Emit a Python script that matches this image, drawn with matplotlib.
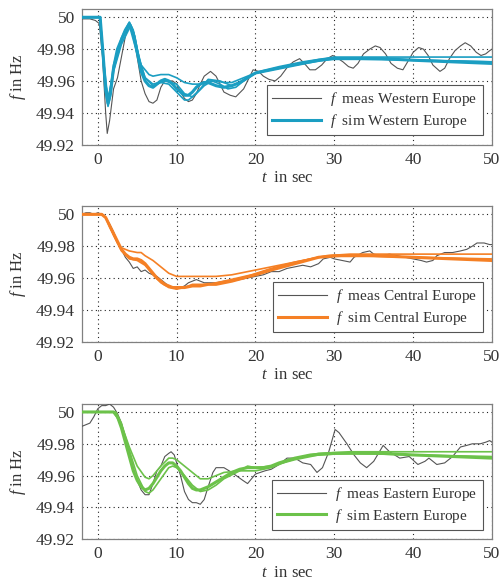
import numpy as np
import matplotlib
matplotlib.use("Agg")
import matplotlib.pyplot as plt

plt.rcParams['font.family'] = ['Liberation Serif', 'DejaVu Serif']
plt.rcParams['mathtext.fontset'] = 'custom'
plt.rcParams['mathtext.it'] = 'Liberation Serif:italic'
plt.rcParams['mathtext.rm'] = 'Liberation Serif'

west_meas = [(-2, 49.999), (-1, 49.999), (-0.3, 49.998), (0.2, 49.996), (0.6, 49.975), (1.0, 49.94),
             (1.2, 49.927), (1.5, 49.935), (2.0, 49.955), (2.5, 49.962), (3.0, 49.975), (3.5, 49.988),
             (4.0, 49.996), (4.5, 49.990), (5.0, 49.975), (5.5, 49.960), (6.0, 49.952), (6.5, 49.947),
             (7.0, 49.946), (7.5, 49.948), (8.0, 49.956), (8.5, 49.960), (9.0, 49.960), (9.5, 49.960),
             (10.0, 49.958), (10.5, 49.953), (11.0, 49.949), (11.5, 49.947), (12.0, 49.948), (12.5, 49.952),
             (13.0, 49.958), (13.5, 49.963), (14.3, 49.966), (15.0, 49.963), (15.5, 49.958), (16.0, 49.953),
             (16.8, 49.951), (17.5, 49.950), (18.5, 49.955), (19.7, 49.967), (20.4, 49.966), (21.0, 49.963),
             (21.7, 49.961), (22.5, 49.960), (23.2, 49.963), (24.1, 49.969), (24.8, 49.972), (25.6, 49.974),
             (26.2, 49.971), (26.9, 49.967), (27.6, 49.967), (28.4, 49.970), (29.1, 49.974), (29.8, 49.976),
             (30.5, 49.974), (31.1, 49.972), (31.8, 49.969), (32.4, 49.968), (33.0, 49.971), (33.7, 49.977),
             (34.5, 49.980), (35.2, 49.982), (35.8, 49.981), (36.5, 49.977), (37.2, 49.971), (38.0, 49.968),
             (38.7, 49.967), (39.3, 49.972), (40.0, 49.978), (40.7, 49.981), (41.3, 49.980), (41.9, 49.976),
             (42.5, 49.970), (43.4, 49.966), (44.0, 49.968), (44.6, 49.974), (45.3, 49.979), (46.0, 49.982),
             (46.6, 49.984), (47.3, 49.982), (48.0, 49.978), (48.6, 49.976), (49.2, 49.977), (49.7, 49.979),
             (50, 49.980)]
west_sim = [(-2, 50), (0.3, 50), (0.7, 49.975), (1.0, 49.955), (1.3, 49.946), (1.6, 49.952), (2.0, 49.968),
            (2.5, 49.980), (3.0, 49.986), (3.5, 49.992), (4.0, 49.996), (4.5, 49.990), (5.0, 49.978),
            (5.5, 49.966), (6.0, 49.960), (6.5, 49.957), (7.0, 49.956), (7.5, 49.958), (8.0, 49.960),
            (8.5, 49.961), (9.0, 49.960), (9.5, 49.958), (10, 49.955), (10.5, 49.953), (11, 49.951),
            (11.5, 49.951), (12, 49.953), (12.5, 49.956), (13, 49.958), (13.5, 49.959), (14, 49.959),
            (15, 49.957), (16, 49.956), (17, 49.957), (18, 49.959), (19, 49.962), (20, 49.965),
            (22, 49.967), (25, 49.970), (28, 49.973), (30, 49.974), (33, 49.974), (36, 49.974),
            (40, 49.973), (45, 49.972), (50, 49.971)]
west_sim_hi = [(-2, 50), (0.3, 50), (0.7, 49.976), (1.0, 49.958), (1.3, 49.950), (1.6, 49.955), (2.0, 49.970),
               (3.0, 49.987), (4.0, 49.997), (4.5, 49.992), (5.0, 49.980), (5.5, 49.970), (6.5, 49.964),
               (7, 49.963), (8, 49.964), (9, 49.964), (10, 49.962), (11, 49.959), (12, 49.958), (13, 49.958),
               (14, 49.960), (15, 49.960), (16, 49.959), (17, 49.959), (18, 49.961), (19.5, 49.964),
               (20.5, 49.966), (23, 49.969), (26, 49.972), (30, 49.975), (40, 49.975), (50, 49.975)]
west_sim_lo = [(-2, 50), (0.3, 50), (0.7, 49.972), (1.0, 49.952), (1.3, 49.944), (1.6, 49.950), (2.0, 49.966),
               (3.0, 49.983), (4.2, 49.995), (4.7, 49.988), (5.2, 49.975), (6.0, 49.962), (7, 49.957),
               (8, 49.959), (9, 49.958), (10, 49.953), (11, 49.948), (11.5, 49.948), (12.5, 49.952),
               (13.5, 49.957), (14.5, 49.960), (15.5, 49.958), (16.5, 49.955), (17.5, 49.956), (18.5, 49.960),
               (20, 49.965), (22, 49.967), (25, 49.970), (29, 49.974), (35, 49.974), (42, 49.973), (50, 49.972)]
west_sim_mid = [(-2, 50), (0.3, 50), (0.7, 49.974), (1.3, 49.948), (2.0, 49.967), (3.0, 49.985),
                (4.0, 49.995), (5.0, 49.977), (6, 49.962), (7, 49.958), (8.5, 49.960), (10, 49.958),
                (11, 49.952), (12, 49.950), (13, 49.955), (14, 49.961), (15.5, 49.960), (17, 49.957),
                (18.5, 49.960), (20, 49.965), (25, 49.970), (30, 49.974), (40, 49.973), (50, 49.972)]

central_meas = [(-2, 50.000), (-1.5, 50.001), (-1, 50.001), (-0.5, 50.000), (0, 50.001), (0.5, 50.000),
                (1, 49.998), (1.5, 49.994), (2, 49.989), (2.5, 49.983), (3, 49.978), (3.5, 49.973),
                (4, 49.970), (4.5, 49.966), (5, 49.967), (5.5, 49.964), (6, 49.965), (6.5, 49.963),
                (7, 49.962), (7.5, 49.961), (8, 49.959), (8.5, 49.957), (9, 49.955), (9.5, 49.954),
                (10, 49.953), (10.5, 49.954), (11, 49.955), (11.5, 49.957), (12, 49.958), (12.5, 49.959),
                (13, 49.958), (13.5, 49.957), (14, 49.957), (15, 49.957), (16, 49.958), (17, 49.958),
                (18, 49.959), (19, 49.960), (20, 49.961), (21, 49.962), (22, 49.964), (23, 49.964),
                (24, 49.966), (25, 49.967), (26, 49.968), (27, 49.967), (28, 49.969), (28.6, 49.972),
                (29.5, 49.973), (30, 49.972), (31, 49.971), (32, 49.970), (32.5, 49.973), (33.6, 49.976),
                (34.5, 49.977), (35, 49.975), (36, 49.974), (37, 49.975), (38, 49.974), (39, 49.973),
                (40, 49.972), (41, 49.971), (41.7, 49.970), (42.5, 49.971), (43, 49.974), (44, 49.976),
                (45, 49.976), (46, 49.977), (46.8, 49.978), (47.5, 49.980), (48.1, 49.982), (49, 49.982),
                (49.7, 49.981), (50, 49.981)]
central_sim = [(-2, 50), (0.5, 50), (1, 49.998), (1.5, 49.993), (2, 49.988), (2.5, 49.983), (3, 49.978),
               (3.5, 49.975), (4, 49.973), (4.5, 49.972), (5, 49.972), (5.5, 49.971), (6, 49.969),
               (6.5, 49.966), (7, 49.963), (7.5, 49.960), (8, 49.958), (8.5, 49.956), (9, 49.955),
               (9.5, 49.954), (10, 49.954), (11, 49.954), (12, 49.955), (13, 49.955), (14, 49.956),
               (15, 49.956), (17, 49.958), (20, 49.962), (22, 49.965), (25, 49.969), (28, 49.973),
               (30, 49.974), (35, 49.974), (40, 49.973), (45, 49.972), (50, 49.971)]
central_sim_hi = [(-2, 50), (0.5, 50), (1, 49.998), (1.5, 49.993), (2, 49.987), (2.5, 49.982), (3, 49.979),
                  (4, 49.977), (5, 49.976), (5.5, 49.976), (6, 49.974), (7, 49.971), (8, 49.967),
                  (9, 49.963), (10, 49.961), (11, 49.961), (12, 49.961), (14, 49.961), (15, 49.961),
                  (17, 49.962), (19, 49.964), (21, 49.966), (24, 49.969), (27, 49.972), (29, 49.974),
                  (32, 49.975), (40, 49.975), (50, 49.975)]
central_sim_lo = [(-2, 50), (0.5, 50), (1, 49.998), (1.5, 49.992), (2, 49.987), (2.5, 49.982), (3, 49.977),
                  (4, 49.972), (5, 49.971), (6, 49.968), (7, 49.962), (8, 49.957), (9, 49.954),
                  (10, 49.953), (11, 49.954), (12, 49.956), (14, 49.956), (16, 49.958), (19.5, 49.962),
                  (22, 49.966), (25, 49.970), (28, 49.973), (32, 49.974), (40, 49.973), (50, 49.972)]

east_meas = [(-2, 49.991), (-1.5, 49.992), (-1, 49.993), (-0.5, 49.997), (0, 50.002), (0.5, 50.004),
             (1, 50.004), (1.5, 50.005), (2, 50.003), (2.5, 49.999), (3, 49.993), (3.5, 49.984),
             (4, 49.975), (4.5, 49.965), (5, 49.957), (5.5, 49.951), (6, 49.948), (6.5, 49.948),
             (7, 49.955), (7.5, 49.963), (8, 49.966), (8.5, 49.972), (9, 49.974), (9.3, 49.975),
             (9.7, 49.973), (10, 49.968), (10.5, 49.960), (11, 49.950), (11.5, 49.945), (12, 49.943),
             (12.5, 49.943), (13, 49.942), (13.5, 49.945), (14, 49.953), (14.6, 49.962), (15, 49.965),
             (16, 49.965), (17, 49.962), (18.4, 49.957), (19, 49.955), (20, 49.961), (21.2, 49.963),
             (22, 49.964), (23, 49.967), (24, 49.971), (25, 49.971), (26, 49.968), (27, 49.967),
             (27.8, 49.962), (28.5, 49.965), (29.3, 49.975), (30.1, 49.989), (30.6, 49.987), (31.6, 49.980),
             (32.5, 49.973), (33.3, 49.968), (34.1, 49.965), (35, 49.969), (36.2, 49.979), (37, 49.975),
             (38.3, 49.971), (39.5, 49.972), (40.6, 49.967), (41.5, 49.969), (42, 49.971), (43, 49.967),
             (44, 49.968), (45, 49.972), (46, 49.978), (46.8, 49.979), (47.5, 49.980), (48.5, 49.980),
             (49.2, 49.981), (49.7, 49.982), (50, 49.981)]
east_sim = [(-2, 50), (2, 50), (2.5, 49.997), (3, 49.990), (3.5, 49.981), (4, 49.972), (4.5, 49.963),
            (5, 49.957), (5.5, 49.953), (6, 49.951), (6.5, 49.952), (7, 49.955), (7.5, 49.959), (8, 49.963),
            (8.5, 49.966), (9, 49.968), (9.5, 49.968), (10, 49.966), (10.5, 49.963), (11, 49.959),
            (11.5, 49.955), (12, 49.952), (12.5, 49.951), (13, 49.951), (14, 49.953), (15, 49.956),
            (16, 49.959), (17, 49.962), (18, 49.964), (19, 49.965), (20, 49.965), (21, 49.965),
            (22, 49.966), (23, 49.968), (25, 49.971), (27, 49.973), (30, 49.974), (33, 49.974),
            (36, 49.974), (40, 49.973), (45, 49.972), (50, 49.971)]
east_sim_hi = [(-2, 50), (2, 50), (3, 49.992), (4, 49.978), (5, 49.966), (6, 49.959), (6.5, 49.958),
               (7, 49.960), (8, 49.966), (9, 49.971), (9.5, 49.971), (10, 49.970), (11, 49.966),
               (12, 49.962), (13, 49.958), (14, 49.958), (15, 49.960), (16, 49.962), (18, 49.963),
               (20, 49.963), (22, 49.965), (24, 49.969), (26, 49.972), (28, 49.974), (32, 49.975),
               (50, 49.975)]
east_sim_lo = [(-2, 50), (2.3, 50), (3, 49.993), (4, 49.976), (5, 49.960), (6, 49.950), (6.5, 49.949),
               (7, 49.951), (8, 49.958), (9, 49.965), (9.5, 49.966), (10, 49.965), (11, 49.960),
               (12, 49.954), (13, 49.950), (14, 49.951), (15, 49.954), (16, 49.958), (18, 49.963),
               (19, 49.966), (20, 49.965), (22, 49.966), (25, 49.970), (28, 49.973), (32, 49.974),
               (40, 49.973), (50, 49.972)]

regions = ['Western Europe', 'Central Europe', 'Eastern Europe']
colors = ['#1b9ec2', '#f58025', '#6cc24a']
meas_series = [west_meas, central_meas, east_meas]
sim_series = [west_sim, central_sim, east_sim]
sim_variants = [[west_sim_hi, west_sim_lo, west_sim_mid],
                [central_sim_hi, central_sim_lo],
                [east_sim_hi, east_sim_lo]]

yticks = [49.92, 49.94, 49.96, 49.98, 50]
ytick_labels = ['49.92', '49.94', '49.96', '49.98', '50']
xticks = [0, 10, 20, 30, 40, 50]

fig = plt.figure(figsize=(5.0, 5.83), dpi=100)
bottoms = [0.752, 0.414, 0.075]

for i in range(3):
    ax = fig.add_axes([0.164, bottoms[i], 0.820, 0.232])
    t, f = np.array(meas_series[i]).T
    ax.plot(t, f, color='#555555', lw=0.8, zorder=3, label=r'$f$  meas ' + regions[i])
    for v in sim_variants[i]:
        tv, fv = np.array(v).T
        ax.plot(tv, fv, color=colors[i], lw=1.2, zorder=4)
    ts, fs = np.array(sim_series[i]).T
    ax.plot(ts, fs, color=colors[i], lw=2.2, zorder=5, label=r'$f$  sim ' + regions[i])

    ax.set_xlim(-2, 50)
    ax.set_ylim(49.92, 50.005)
    ax.set_xticks(xticks)
    ax.set_yticks(yticks)
    ax.set_yticklabels(ytick_labels)
    ax.grid(True, color='#222222', linestyle=(0, (1, 3)), lw=0.8)
    ax.tick_params(direction='in', length=0, labelsize=12.5, labelcolor='#333333', pad=5)
    for s in ax.spines.values():
        s.set_color('#808080')
        s.set_linewidth(0.9)
    ax.set_ylabel(r'$f$ in Hz', fontsize=12, color='#333333', labelpad=6)
    ax.set_xlabel(r'$t$  in sec', fontsize=12, color='#333333', labelpad=2)
    leg = ax.legend(loc='lower right', fontsize=11, frameon=True, fancybox=False,
                    borderaxespad=0.6, handlelength=3.2, handletextpad=0.6,
                    borderpad=0.35, labelspacing=0.25)
    leg.get_frame().set_edgecolor('#555555')
    leg.get_frame().set_linewidth(0.8)
    leg.get_frame().set_alpha(1)
    for txt in leg.get_texts():
        txt.set_color('#333333')

fig.savefig('out.png', dpi=100)
